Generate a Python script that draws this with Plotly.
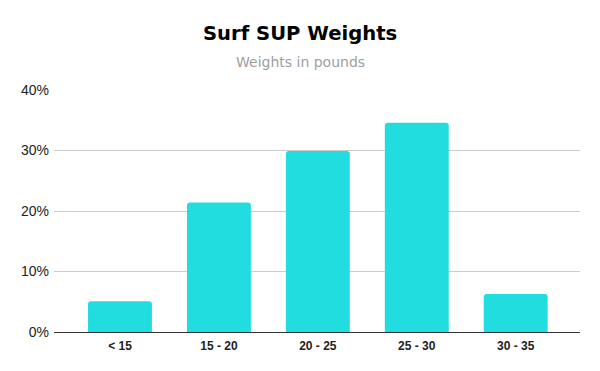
import plotly.graph_objects as go

categories = ["< 15", "15 - 20", "20 - 25", "25 - 30", "30 - 35"]
shares = [5.1, 21.4, 29.9, 34.6, 6.3]
y_ticks = [0, 10, 20, 30, 40]
y_tick_labels = ["0%", "10%", "20%", "30%", "40%"]

L, R, T, B, W, H = 54, 20, 90, 39, 600, 371
pw, ph = W - L - R, H - T - B

fig = go.Figure(go.Bar(
    x=categories, y=shares,
    marker=dict(color="#22DDE0", line=dict(width=0), cornerradius=3),
    hoverinfo="skip",
))

def px_x(x):
    return (x - L) / pw

def px_y(y):
    return (H - B - y) / ph

fig.update_layout(
    width=W, height=H,
    margin=dict(l=L, r=R, t=T, b=B),
    paper_bgcolor="white", plot_bgcolor="white",
    bargap=0.354,
    showlegend=False,
    annotations=[
        dict(text="<b>Surf SUP Weights</b>", x=px_x(300), y=px_y(33), xref="paper", yref="paper",
             xanchor="center", yanchor="middle",
             showarrow=False, font=dict(family="DejaVu Sans", size=19.6, color="#000")),
        dict(text="Weights in pounds", x=px_x(300), y=px_y(62), xref="paper", yref="paper",
             xanchor="center", yanchor="middle",
             showarrow=False, font=dict(family="DejaVu Sans", size=14, color="#9e9e9e")),
    ],
)

fig.update_xaxes(
    type="category", range=[-0.667, 4.65],
    showgrid=False, showline=True, linecolor="#333", linewidth=1,
    ticks="", tickfont=dict(family="Liberation Sans", size=12, color="#222"),
    tickprefix="<b>", ticksuffix="</b>", ticklabelstandoff=3,
)
fig.update_yaxes(
    range=[0, 40], tickvals=y_ticks, ticktext=y_tick_labels,
    showgrid=True, gridcolor="#cccccc", gridwidth=1,
    zeroline=False, showline=False, ticks="", ticklabelstandoff=4,
    tickfont=dict(family="Liberation Sans", size=14, color="#222"),
)

fig.write_html("out.html")
